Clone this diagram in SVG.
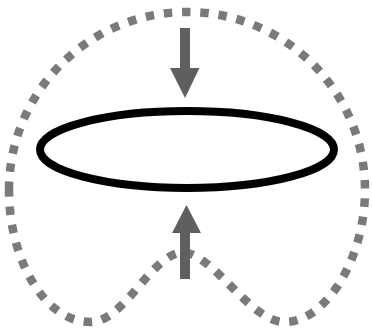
<svg xmlns="http://www.w3.org/2000/svg" width="372" height="331" viewBox="0 0 372 331">
<style>
.outline{fill:none;stroke:#7a7a7a;stroke-width:8.5;stroke-dasharray:8.5 9.8}
.arrow{fill:#5f5f5f}
.ring{fill:none;stroke:#000;stroke-width:8}
</style>
<rect width="372" height="331" fill="#fff"/>
<g id="connectors">
<path class="outline" d="M 9,190 A 178 178 0 0 1 365,190 C 365,260 325,322 285,322 C 250,322 215,255 183,252 C 150,255 125,322 90,322 C 45,322 9,260 9,190 Z"/>
<polygon id="arrow-top" class="arrow" points="180,28 190,28 190,68 199.5,68 185,98 170,68 180,68"/>
<polygon id="arrow-bottom" class="arrow" points="180,279 190,279 190,233 201,233 186.5,205 172,233 180,233"/>
</g>
<g id="ring">
<ellipse class="ring" cx="187" cy="149.5" rx="147" ry="38.5"/>
</g>
</svg>
